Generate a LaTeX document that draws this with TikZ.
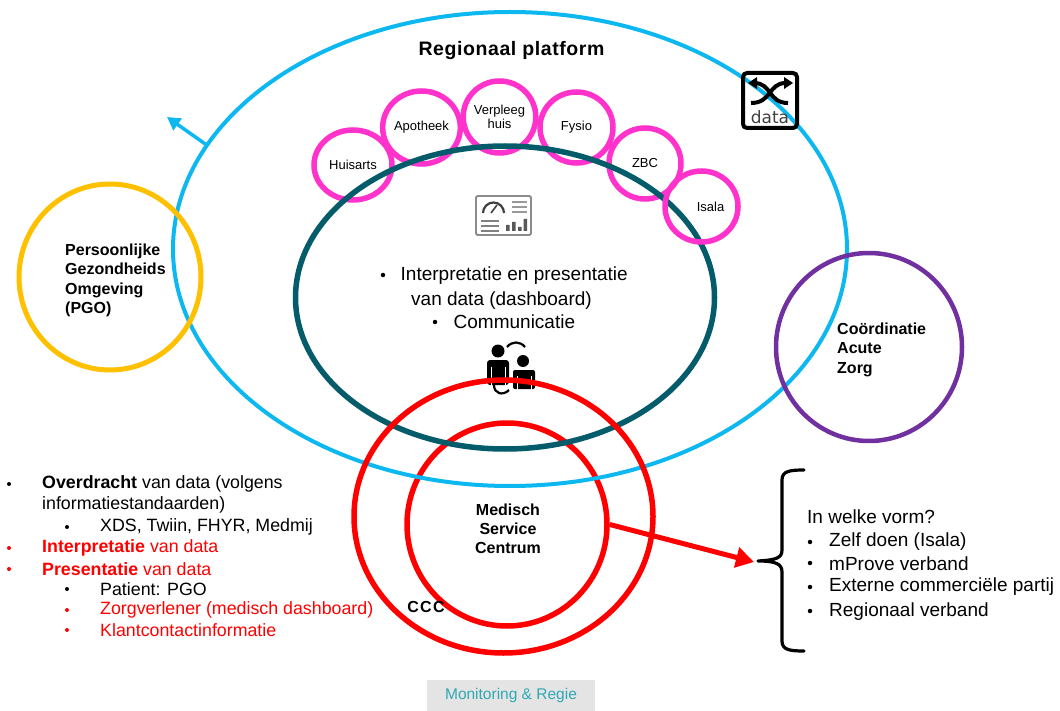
\documentclass[tikz,border=0pt]{standalone}
\usepackage{fontspec}
\setmainfont{Liberation Sans}
\newfontfamily\iconfont{DejaVu Sans}
\usetikzlibrary{arrows.meta,shapes.geometric}
\definecolor{cblue}{HTML}{0DB8F0}
\definecolor{cteal}{HTML}{045C6B}
\definecolor{cpink}{HTML}{FF33CC}
\definecolor{cred}{HTML}{FF0000}
\definecolor{cyel}{HTML}{FFC000}
\definecolor{cpur}{HTML}{7030A0}
\definecolor{cmon}{HTML}{E4E4E4}
\definecolor{cmont}{HTML}{2FA9B5}
\tikzset{
 ring/.style={ellipse,draw,inner sep=0pt,fill=none},
 pinkc/.style={ellipse,draw=cpink,line width=5.5pt,inner sep=0pt,align=center,font=\fontsize{13}{15}\selectfont},
 boldlab/.style={inner sep=0pt,align=left,font=\fontsize{16}{19.2}\selectfont\bfseries},
 body/.style={inner sep=0pt,anchor=west,font=\fontsize{19}{22}\selectfont},
 lbody/.style={inner sep=0pt,anchor=west,font=\fontsize{17.8}{21}\selectfont},
 bul/.style={circle,fill=black,inner sep=0pt,minimum size=4.5pt},
 lbul/.style={circle,fill=black,inner sep=0pt,minimum size=4pt},
 man/.style={fill=black,draw=none}
}
\begin{document}
\begin{tikzpicture}[x=1pt,y=-1pt]
\useasboundingbox (0,0) rectangle (1060,711);
\fill[white] (0,0) rectangle (1060,711);
% Monitoring
\node[fill=cmon,minimum width=168pt,minimum height=32pt,inner sep=0pt,text=cmont,font=\fontsize{15.5}{18}\selectfont] (mon) at (511,695.5) {\raisebox{-3pt}{Monitoring \& Regie}};
% main rings
\node[ring,draw=cred,line width=5.5pt,minimum width=200pt,minimum height=203pt] (msc) at (507,524.5) {};
\node[ring,draw=cblue,line width=4pt,minimum width=674pt,minimum height=474pt] (blue) at (510,249) {};
\node[pinkc,minimum width=78pt,minimum height=70pt] (hu) at (353,165) {\raisebox{-1pt}{Huisarts}};
\node[pinkc,minimum width=77pt,minimum height=73pt] (ap) at (421.5,127.5) {\raisebox{-1pt}{Apotheek}};
\node[pinkc,minimum width=71pt,minimum height=72pt] (ve) at (499.5,117) {Verpleeg\\[-1pt]huis};
\node[pinkc,minimum width=73pt,minimum height=71pt] (fy) at (576.5,127.5) {\raisebox{-1pt}{Fysio}};
\node[pinkc,minimum width=72pt,minimum height=71pt] (zb) at (645,163.5) {\raisebox{-2pt}{ZBC}};
\node[ring,draw=cteal,line width=5.5pt,minimum width=419pt,minimum height=303pt] (teal) at (505,297.5) {};
\node[pinkc,minimum width=73pt,minimum height=71pt] (is) at (701.5,206.5) {\hspace*{18pt}\raisebox{-1pt}{Isala}};
\node[ring,draw=cyel,line width=5pt,minimum width=182pt,minimum height=186pt] (pgo) at (110,277) {};
\node[ring,draw=cpur,line width=4.5pt,minimum width=186pt,minimum height=188pt] (coord) at (869,347) {};
% people icon
\fill[man] (498,351) circle[radius=6.5pt];
\fill[man,rounded corners=3pt] (487,385) -- (487,360) -- (509,360) -- (509,385) -- cycle;
\draw[white,line width=1pt] (491,367) -- (491,386) (505.5,367) -- (505.5,386);
\fill[man] (523,361) circle[radius=6pt];
\fill[man,rounded corners=2pt] (513,389) -- (513,370) -- (535,370) -- (535,389) -- cycle;
\draw[white,line width=1pt] (517,376) -- (517,390) (531,376) -- (531,390);
\draw[black,line width=2.2pt] (507,347) .. controls (512,341) and (520,341) .. (525,347);
\draw[black,line width=2.2pt] (494,385) .. controls (494,394) and (503,396) .. (509,390);
% outer red ring
\node[ring,draw=cred,line width=5.5pt,minimum width=299pt,minimum height=273pt] (ccc) at (503.5,516.5) {};
% titles
\node[inner sep=0pt,font=\fontsize{19.5}{22}\selectfont\bfseries\addfontfeature{LetterSpace=3}] (title) at (511.5,51) {Regionaal platform};
\node[boldlab,anchor=north west] (pgot) at (65,244) {Persoonlijke\\Gezondheids\\Omgeving\\(PGO)};
\node[boldlab,anchor=north west] (coot) at (837,323) {Coördinatie\\Acute\\Zorg};
\node[boldlab,align=center] (msct) at (508,529) {Medisch\\Service\\Centrum};
\node[inner sep=0pt,font=\fontsize{16}{18}\selectfont\bfseries\addfontfeature{LetterSpace=8}] (ccct) at (426,607) {CCC};
% teal texts
\node[bul] (b1) at (383,275) {};
\node[body] (t1) at (400.5,276) {Interpretatie en presentatie};
\node[body] (t2) at (411,301) {van data (dashboard)};
\node[bul] (b2) at (435,322) {};
\node[body] (t3) at (453.5,322) {Communicatie};
% arrows
\coordinate (a1e) at (167,117);
\draw[cblue,line width=3.5pt,-{Triangle[length=13pt,width=14pt]}] (blue.161) -- (a1e);
\coordinate (a2e) at (754,562);
\draw[cred,line width=5pt,-{Triangle[length=18pt,width=20pt]}] (msc.east) -- (a2e);
% brace
\draw[black,line width=3.2pt,line cap=round,line join=round] (804,470) .. controls (790,470) and (782,471) .. (782,480) -- (782,550) .. controls (782,558) and (776,560) .. (758,561) .. controls (776,561) and (782,564) .. (782,572) -- (782,641) .. controls (782,650) and (790,651) .. (804,651);
% right list
\node[body] (r0) at (807,517) {In welke vorm?};
\node[bul] at (810,542) {};\node[body] (r1) at (829,542) {Zelf doen (Isala)};
\node[bul] at (810,563) {};\node[body] (r2) at (829,564) {mProve verband};
\node[bul] at (810,587) {};\node[body] (r3) at (829,587) {Externe commerciële partij};
\node[bul] at (810,611) {};\node[body] (r4) at (829,612) {Regionaal verband};
% left list
\node[lbul] at (9,484) {};
\node[lbody] (l1) at (42,484) {\textbf{Overdracht} van data (volgens};
\node[lbody] (l1b) at (42,505) {informatiestandaarden)};
\node[lbul] at (67,527) {};
\node[lbody] (l2) at (100,527) {XDS, Twiin, FHYR, Medmij};
\node[lbul,fill=cred] at (9,548) {};
\node[lbody,text=cred] (l3) at (42,548) {\textbf{Interpretatie} van data};
\node[lbul,fill=cred] at (9,569) {};
\node[lbody,text=cred] (l4) at (42,569) {\textbf{Presentatie} van data};
\node[lbul] at (67,589) {};
\node[lbody] (l5) at (100,589) {Patient: PGO};
\node[lbul,fill=cred] at (67,610) {};
\node[lbody,text=cred] (l6) at (100,610) {Zorgverlener (medisch dashboard)};
\node[lbul,fill=cred] at (67,630) {};
\node[lbody,text=cred] (l7) at (100,630) {Klantcontactinformatie};
% data icon
\draw[black,line width=4pt,rounded corners=4pt,fill=none] (743,73) rectangle (797,128);
\draw[black,line width=4pt] (754,83) .. controls (772,83) and (768,103) .. (788,103);
\draw[black,line width=4pt] (751,103) .. controls (772,103) and (768,83) .. (786,83);
\fill[black] (748,83) -- (757,77) -- (757,89) -- cycle;
\fill[black] (793,83) -- (784,77) -- (784,89) -- cycle;
\node[inner sep=0pt,text=black!75,font=\fontsize{17}{17}\selectfont\iconfont] (dtxt) at (770,117) {data};
% dashboard icon
\draw[black!45,line width=1.8pt,rounded corners=1.5pt] (476,196) rectangle (531,235);
\draw[black!75,line width=2.2pt] (483,213) arc[start angle=180,end angle=0,radius=10.5pt];
\draw[black!75,line width=1.6pt] (491,213) -- (497,205);
\foreach \yy in {202,207,212}{\draw[black!40,line width=1.4pt] (512,\yy) -- (527,\yy);}
\foreach \yy in {221,226,231}{\draw[black!50,line width=1.4pt] (481,\yy) -- (499,\yy);}
\fill[black!65] (506,225) rectangle (509.5,231) (512,222) rectangle (515.5,231) (518,227) rectangle (521.5,231) (523.5,219) rectangle (527,231);
\end{tikzpicture}
\end{document}
